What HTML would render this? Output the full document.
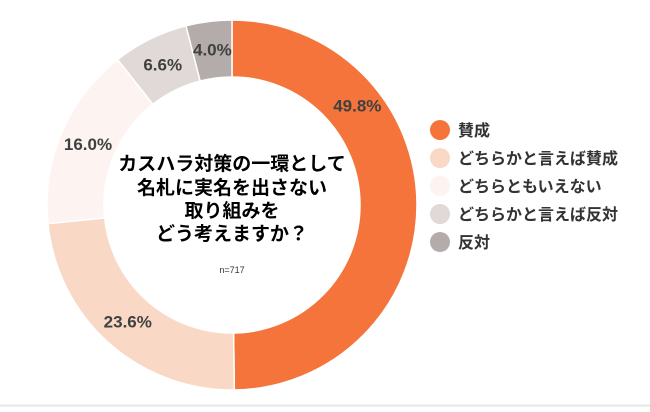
<!DOCTYPE html>
<html><head><meta charset="utf-8"><style>
body{margin:0;background:#fff;}
svg text{font-family:"Liberation Sans","Noto Sans CJK JP",sans-serif;}
</style></head><body>
<svg width="650" height="407">
<line x1="0" y1="405.5" x2="650" y2="405.5" stroke="#e6e6e6" stroke-width="2"/>
<g id="slices"></g>
<g id="labels"></g>
<g font-size="19" font-weight="bold" fill="#000" text-anchor="middle">
<text x="232" y="170">カスハラ対策の一環として</text>
<text x="232" y="194">名札に実名を出さない</text>
<text x="232" y="217">取り組みを</text>
<text x="232" y="240">どう考えますか？</text>
</g>
<text x="232" y="273" font-size="9" fill="#333" text-anchor="middle">n=717</text>
<g id="legend"></g>
</svg>
<script>
const categories=["賛成","どちらかと言えば賛成","どちらともいえない","どちらかと言えば反対","反対"];
const values=[49.8,23.6,16.0,6.6,4.0];
const colors=["#F4743B","#F9D9C6","#FDF4F1","#E1D9D7","#B4ACAA"];
const ns="http://www.w3.org/2000/svg";
const cx=232,cy=205,R=185,r=128;
const total=values.reduce((a,b)=>a+b,0);
function pt(a,rad){return [cx+rad*Math.sin(a),cy-rad*Math.cos(a)];}
let start=0;
const sg=document.getElementById('slices'),lg=document.getElementById('labels'),leg=document.getElementById('legend');
values.forEach((v,i)=>{
  const end=start+v/total*2*Math.PI;
  const [x1,y1]=pt(start,R),[x2,y2]=pt(end,R),[x3,y3]=pt(end,r),[x4,y4]=pt(start,r);
  const large=end-start>Math.PI?1:0;
  const p=document.createElementNS(ns,'path');
  p.setAttribute('d',`M${x1},${y1}A${R},${R} 0 ${large} 1 ${x2},${y2}L${x3},${y3}A${r},${r} 0 ${large} 0 ${x4},${y4}Z`);
  p.setAttribute('fill',colors[i]);p.setAttribute('stroke','#fff');p.setAttribute('stroke-width','1.5');
  
  
  sg.appendChild(p);
  const mid=(start+end)/2;
  const big=end-start>Math.PI*0.9;
  const la = big ? start+0.9 : mid;
  const lr = big ? 160 : (R+r)/2;
  let [lx,ly]=pt(la,lr);
  const t=document.createElementNS(ns,'text');
  t.setAttribute('x',lx);t.setAttribute('y',ly+6);t.setAttribute('text-anchor','middle');
  t.setAttribute('font-size','17');t.setAttribute('font-weight','bold');t.setAttribute('fill','#404040');
  t.textContent=v.toFixed(1)+'%';
  
  
  lg.appendChild(t);
  const c=document.createElementNS(ns,'circle');
  c.setAttribute('cx',440);c.setAttribute('cy',130+i*28);c.setAttribute('r',10);c.setAttribute('fill',colors[i]);
  
  
  leg.appendChild(c);
  const lt=document.createElementNS(ns,'text');
  lt.setAttribute('x',458);lt.setAttribute('y',136+i*28);lt.setAttribute('font-size','16');lt.setAttribute('font-weight','bold');lt.setAttribute('fill','#333');
  lt.textContent=categories[i];
  
  
  leg.appendChild(lt);
  start=end;
});
</script>
</body></html>
